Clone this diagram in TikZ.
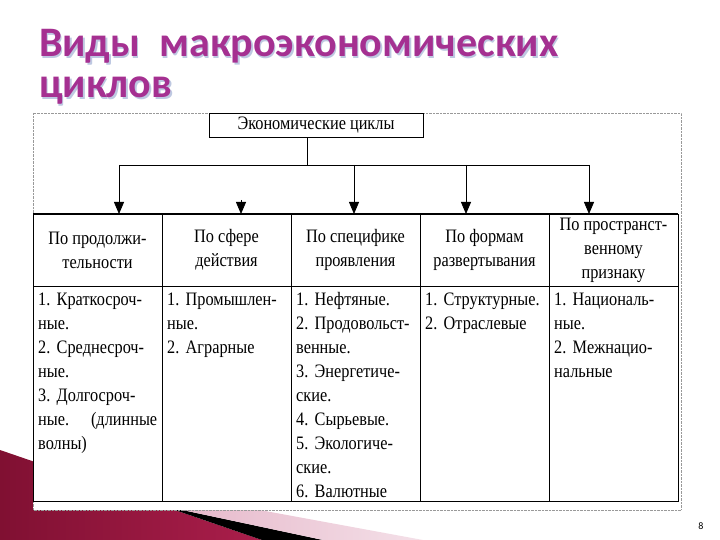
\documentclass[tikz,border=0pt]{standalone}
\usepackage{fontspec}
\setmainfont{Liberation Serif}
\newfontfamily\titlefont{Carlito}
\newfontfamily\cellfont[FakeStretch=0.857]{Liberation Serif}
\usetikzlibrary{positioning,arrows.meta}

\definecolor{titlepurple}{RGB}{165,48,145}
\definecolor{titleshade}{RGB}{190,200,225}
\definecolor{darkwine}{RGB}{128,16,50}
\definecolor{rosered}{RGB}{200,66,110}
\definecolor{bandred}{RGB}{170,30,75}
\definecolor{palepink}{RGB}{228,178,198}
\definecolor{paler}{RGB}{244,224,232}

\newcommand\tablefont{\cellfont\frenchspacing\fontsize{19}{24}\selectfont}
\newcommand\headline{\titlefont\bfseries\fontsize{42}{44}\selectfont}

\tikzset{
    headcell/.style={draw=black,line width=0.8pt,minimum width=129pt,minimum height=72pt,
        inner sep=0pt,outer sep=0pt,align=center,font=\tablefont},
    bodycell/.style={draw=black,line width=0.8pt,minimum width=129pt,minimum height=215pt,
        inner sep=0pt,outer sep=0pt},
    item/.style={anchor=north west,inner xsep=5pt,inner ysep=2pt,text width=119pt,
        align=left,font=\tablefont},
    link/.style={line width=0.8pt,-{Triangle[length=12pt,width=10pt]}},
}

\begin{document}
\begin{tikzpicture}[x=1pt,y=-1pt]
\useasboundingbox (0,0) rectangle (720,540);

% bands at the bottom left
\shade[left color=darkwine,middle color=rosered,right color=bandred]
    (0,450) -- (262,540) -- (0,540) -- cycle;
\fill[black] (140,498) -- (140,501) -- (323,540) -- (262,540) -- cycle;
\shade[left color=palepink,right color=paler]
    (140,488) -- (423,540) -- (323,540) -- (140,501) -- cycle;

% title
\node[anchor=base west,text=titleshade,font=\headline] at (37,58.5) {Виды\ \ макроэкономических};
\node[anchor=base west,text=titlepurple,font=\headline] (title1) at (35.5,57) {Виды\ \ макроэкономических};
\node[anchor=base west,text=titleshade,font=\headline] at (37,99.5) {циклов};
\node[anchor=base west,text=titlepurple,font=\headline] (title2) at (35.5,98) {циклов};

% frame of the scan
\draw[densely dotted,gray!80,fill=white] (33,113) rectangle (681,510);

\node[draw=black,line width=0.8pt,minimum width=214pt,minimum height=24pt,inner sep=0pt,
    font=\tablefont] (root) at (316,125) {Экономические циклы};

% header row
\node[headcell] (h1) at (97.5,250) {По продолжи-\\тельности};
\node[headcell] (h2) at (226.5,250) {По сфере\\действия};
\node[headcell] (h3) at (355.5,250) {По специфике\\проявления};
\node[headcell] (h4) at (484.5,250) {По формам\\развертывания};
\node[headcell] (h5) at (613.5,250) {По пространст-\\венному\\признаку};
\draw[line width=1.8pt] (h1.north west) -- (h5.north east);

% body row
\foreach \i in {1,...,5}
    \node[bodycell,below=0pt of h\i] (c\i) {};

\node[item] (t1) at (c1.north west) {\strut 1. Краткосроч-\\ные.\\2. Среднесроч-\\ные.\\3. Долгосроч-\\ные.\hfill(длинные\\волны)};
\node[item] (t2) at (c2.north west) {\strut 1. Промышлен-\\ные.\\2. Аграрные};
\node[item] (t3) at (c3.north west) {\strut 1. Нефтяные.\\2. Продовольст-\\венные.\\3. Энергетиче-\\ские.\\4. Сырьевые.\\5. Экологиче-\\ские.\\6. Валютные};
\node[item] (t4) at (c4.north west) {\strut 1. Структурные.\\2. Отраслевые};
\node[item] (t5) at (c5.north west) {\strut 1. Националь-\\ные.\\2. Межнацио-\\нальные};

% connectors
\coordinate (fork) at (307,165);
\coordinate (a1) at (119,165);
\coordinate (a2) at (241,165);
\coordinate (a3) at (354,165);
\coordinate (a4) at (466,165);
\coordinate (a5) at (589,165);
\draw[line width=0.8pt] (root.south -| fork) -- (fork);
\draw[line width=0.8pt] (a1) -- (a5);
\foreach \i in {1,3,4,5}
    \draw[link] (a\i) -- (a\i |- h\i.north);
\draw[link,shorten <=35pt] (a2) -- (a2 |- h2.north);

\node[font=\titlefont\fontsize{10}{12}\selectfont] (page) at (701,526) {8};
\end{tikzpicture}
\end{document}
